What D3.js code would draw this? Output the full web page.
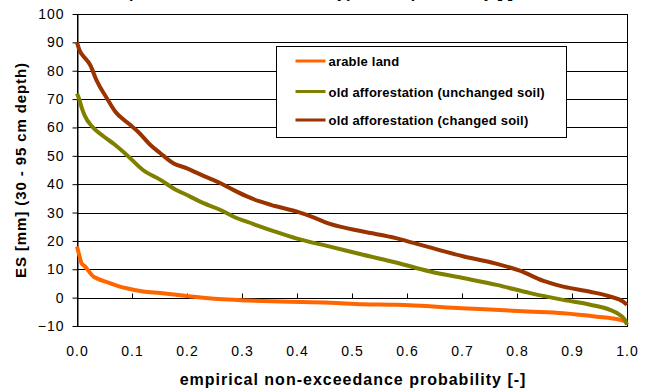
<!DOCTYPE html>
<html>
<head>
	<meta charset="utf-8">
	<script src="https://d3js.org/d3.v7.min.js"></script>
	<style>
		body { margin: 0; background: #fff; }
		text { font-family: "Liberation Sans", Arial, sans-serif; }
	</style>
</head>
<body>
	<div id="chart"></div>

	<script type="text/javascript">

		// probability axis values and ES for each land use
		var arableP = [0, 0.004, 0.0085, 0.0145, 0.03, 0.036, 0.06, 0.078, 0.09, 0.12, 0.151, 0.2, 0.257, 0.31, 0.37, 0.46, 0.52, 0.58, 0.7, 0.82, 0.884, 0.945, 0.987, 1.0];
		var arableES = [18, 15, 12, 11, 7.4, 6.8, 5.1, 3.9, 3.3, 2.2, 1.6, 0.6, -0.5, -1.0, -1.4, -1.8, -2.3, -2.5, -3.7, -4.9, -5.5, -6.7, -7.8, -8.4];

		var unchangedP = [0, 0.004, 0.0085, 0.0145, 0.027, 0.048, 0.069, 0.09, 0.12, 0.151, 0.175, 0.205, 0.23, 0.26, 0.284, 0.32, 0.36, 0.4, 0.46, 0.52, 0.58, 0.642, 0.702, 0.763, 0.824, 0.884, 0.933, 0.969, 0.987, 0.996, 1.0];
		var unchangedES = [72, 70, 67, 64, 60.4, 56.9, 53.9, 50.4, 45, 41.6, 38.6, 35.7, 33.3, 31, 28.6, 26, 23.3, 20.8, 18, 15.1, 12.4, 9.2, 6.9, 4.5, 1.6, -0.8, -2.5, -4.3, -6.1, -7.8, -9.6];

		var changedP = [0, 0.005, 0.01, 0.024, 0.036, 0.054, 0.069, 0.096, 0.111, 0.133, 0.151, 0.175, 0.2, 0.229, 0.26, 0.284, 0.309, 0.331, 0.36, 0.4, 0.43, 0.46, 0.52, 0.58, 0.61, 0.64, 0.70, 0.76, 0.805, 0.848, 0.884, 0.933, 0.969, 0.993, 1.0];
		var changedES = [90, 87, 85.5, 82, 76.4, 70.4, 65.7, 61, 58.5, 53.9, 51, 47.4, 45.6, 43, 40.4, 38, 35.7, 34, 32.3, 30.3, 28.3, 26, 23.3, 21, 19.4, 17.8, 14.7, 12.1, 9.5, 5.9, 3.9, 2.1, 0.4, -1.4, -2.5];

		var seriesNames = ["arable land", "old afforestation (unchanged soil)", "old afforestation (changed soil)"];
		var colors = ["#ff6600", "#808000", "#993300"];

		var xTicks = [0, 0.1, 0.2, 0.3, 0.4, 0.5, 0.6, 0.7, 0.8, 0.9, 1.0];
		var yTicks = [-10, 0, 10, 20, 30, 40, 50, 60, 70, 80, 90, 100];

		var series = [
			{ p: arableP, es: arableES },
			{ p: unchangedP, es: unchangedES },
			{ p: changedP, es: changedES }
		].map(function(s, i){
			return { name: seriesNames[i], color: colors[i], values: s.p.map(function(p, j){ return [p, s.es[j]]; }) };
		});

		var svgwidth = 651, svgheight = 392;
		var plotLeft = 77, plotRight = 627, plotTop = 14, plotBottom = 326;

		var svg = d3.select("#chart").append("svg")
				.attr("width", svgwidth)
				.attr("height", svgheight);

		var xScale = d3.scaleLinear().domain([0, 1]).range([plotLeft, plotRight]);
		var yScale = d3.scaleLinear().domain([-10, 100]).range([plotBottom, plotTop]);

		// title, mostly cut off at the very top
		svg.append("text")
			.attr("x", 513).attr("y", -2)
			.attr("text-anchor", "end")
			.attr("font-size", 16).attr("font-weight", "bold")
			.text("Comparison of ES for land use types and probability [-]");

		// horizontal gridlines
		svg.append("g").selectAll("line").data(yTicks.filter(function(d){ return d > -10; }))
			.enter().append("line")
			.attr("x1", plotLeft).attr("x2", plotRight)
			.attr("y1", function(d){ return Math.round(yScale(d)) + 0.5; })
			.attr("y2", function(d){ return Math.round(yScale(d)) + 0.5; })
			.attr("stroke", "#000").attr("stroke-width", 1);

		// plot border
		svg.append("rect")
			.attr("x", plotLeft + 0.5).attr("y", plotTop + 0.5)
			.attr("width", plotRight - plotLeft).attr("height", plotBottom - plotTop)
			.attr("fill", "none").attr("stroke", "#000");

		// y axis
		var yAxis = d3.axisLeft(yScale).tickValues(yTicks).tickSize(5).tickSizeOuter(0)
			.tickFormat(d3.format("d"));
		var gy = svg.append("g").attr("transform", "translate(" + (plotLeft + 0.5) + ",0)").call(yAxis);
		gy.select(".domain").attr("stroke", "#000");
		gy.selectAll("text").attr("font-size", 14).attr("font-family", "Liberation Sans, Arial, sans-serif")
			.attr("letter-spacing", 1)
			.attr("fill", "#000").attr("x", -13);

		// x axis ticks sit on the zero line, labels at the bottom
		var gx = svg.append("g").attr("transform", "translate(0," + (Math.round(yScale(0)) + 0.5) + ")")
			.call(d3.axisTop(xScale).tickValues(xTicks).tickSize(5).tickSizeOuter(0).tickFormat(""));
		gx.select(".domain").remove();

		svg.append("g").selectAll("text").data(xTicks).enter().append("text")
			.attr("x", function(d){ return xScale(d) + 0.5; })
			.attr("y", 356)
			.attr("text-anchor", "middle")
			.attr("font-size", 14)
			.attr("letter-spacing", 1)
			.text(function(d){ return d.toFixed(1); });

		// axis titles
		svg.append("text")
			.attr("x", 353).attr("y", 385)
			.attr("text-anchor", "middle")
			.attr("font-size", 16).attr("font-weight", "bold")
			.attr("letter-spacing", 1)
			.text("empirical non-exceedance probability [-]");

		svg.append("text")
			.attr("transform", "translate(26,170) rotate(-90)")
			.attr("text-anchor", "middle")
			.attr("font-size", 15).attr("font-weight", "bold")
			.attr("letter-spacing", 0.9)
			.text("ES [mm] (30 - 95 cm depth)");

		// curves
		var line = d3.line()
			.x(function(d){ return xScale(d[0]); })
			.y(function(d){ return yScale(d[1]); })
			.curve(d3.curveMonotoneX);

		svg.append("g").selectAll("path").data(series).enter().append("path")
			.attr("d", function(d){ return line(d.values); })
			.attr("fill", "none")
			.attr("stroke", function(d){ return d.color; })
			.attr("stroke-width", 4)
			.attr("stroke-linejoin", "round");

		// legend
		var legend = svg.append("g").attr("transform", "translate(276.5,46.5)");
		legend.append("rect")
			.attr("width", 290).attr("height", 91)
			.attr("fill", "#fff").attr("stroke", "#000");

		var items = legend.selectAll(".item").data(series).enter().append("g")
			.attr("class", "item")
			.attr("transform", function(d, i){ return "translate(0," + [14.5, 45, 73.5][i] + ")"; });
		items.append("line")
			.attr("x1", 19).attr("x2", 49)
			.attr("stroke", function(d){ return d.color; })
			.attr("stroke-width", 3);
		items.append("text")
			.attr("x", 52).attr("y", 5)
			.attr("font-size", 13).attr("font-weight", "bold")
			.attr("letter-spacing", 0.2)
			.text(function(d){ return d.name; });

	</script>
</body>
</html>
